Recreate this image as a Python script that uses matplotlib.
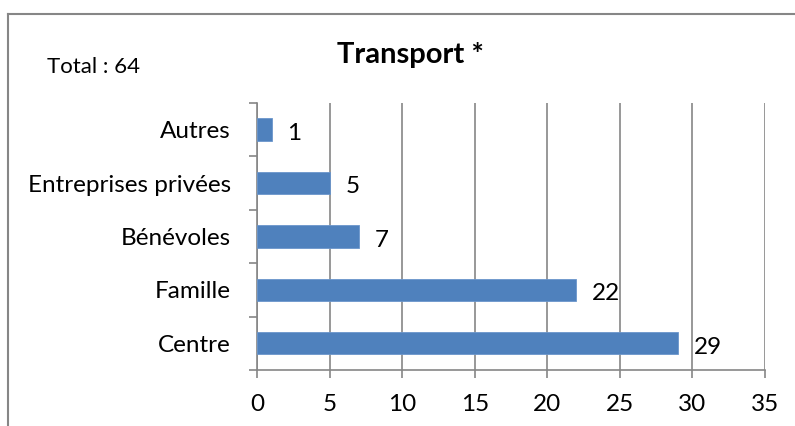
import matplotlib.pyplot as plt
import numpy as np
from matplotlib.lines import Line2D

categories = ["Centre", "Famille", "Bénévoles", "Entreprises privées", "Autres"]
values = [29, 22, 7, 5, 1]
x_ticks = [0, 5, 10, 15, 20, 25, 30, 35]
title = "Transport *"
total_text = "Total : 64"

plt.rcParams['font.family'] = ['Lato', 'DejaVu Sans']

fig = plt.figure(figsize=(7.95, 4.26), dpi=100)
ax = fig.add_axes([0.3233, 0.1315, 0.6390, 0.6267])

# outer chart frame (only left and top edges visible)
grey = "#868686"
fig.add_artist(Line2D([8 / 795, 8 / 795], [0, 1 - 14 / 426], color=grey,
                      lw=1.5, transform=fig.transFigure))
fig.add_artist(Line2D([8 / 795, 1], [1 - 14 / 426, 1 - 14 / 426], color=grey,
                      lw=1.5, transform=fig.transFigure))

y = np.arange(len(categories))
ax.barh(y, values, height=0.42, color="#4F81BD", edgecolor="#6B96CC",
        linewidth=0.6, zorder=3)
for yi, v in zip(y, values):
    ax.text(v + 1.1, yi - 0.07, str(v), va="center", ha="left", fontsize=17.5)

ax.set_xlim(0, 35)
ax.set_ylim(-0.5, len(categories) - 0.5)
ax.set_xticks(x_ticks)
ax.set_yticks(y)
ax.set_yticklabels(categories)
ax.set_yticks(np.arange(-0.5, len(categories), 1), minor=True)

ax.xaxis.grid(True, color=grey, lw=1.2, zorder=0)
for side in ["top", "right"]:
    ax.spines[side].set_visible(False)
for side in ["left", "bottom"]:
    ax.spines[side].set_color(grey)
    ax.spines[side].set_linewidth(1.2)

ax.tick_params(axis="x", length=6, width=1.2, color=grey, pad=11,
               labelsize=17.5)
ax.tick_params(axis="y", which="major", length=0, pad=19, labelsize=17.5)
ax.tick_params(axis="y", which="minor", length=6, width=1.2, color=grey)

fig.text(410 / 795, 1 - 55 / 426, title, ha="center", va="center",
         fontsize=21, fontweight="bold")
fig.text(47 / 795, 1 - 67 / 426, total_text, ha="left", va="center",
         fontsize=16)

fig.savefig("out.png", dpi=100)
